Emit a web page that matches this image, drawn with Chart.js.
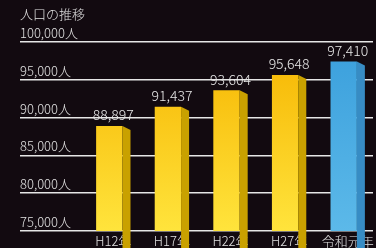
<!DOCTYPE html>
<html>
<head>
<meta charset="utf-8">
<script src="https://cdn.jsdelivr.net/npm/chart.js@4"></script>
<style>
  html, body { margin: 0; padding: 0; background: #120a10; }
  #wrap { width: 376px; height: 248px; }
</style>
</head>
<body>
<div id="wrap"><canvas id="popChart"></canvas></div>
<script>
// data
const years = ["H12年", "H17年", "H22年", "H27年", "令和元年"];
const population = [88897, 91437, 93604, 95648, 97410];
const yTicks = [75000, 80000, 85000, 90000, 95000, 100000];
const chartTitle = "人口の推移";

// colours per bar (last one is the current year)
const frontTop = ["#f6b400", "#f6b400", "#f6b400", "#f6b400", "#3a9fdc"];
const frontBottom = ["#ffe43c", "#ffe43c", "#ffe43c", "#ffe43c", "#5cb9e9"];
const sideColor = ["#c9a100", "#c9a100", "#c9a100", "#c9a100", "#378cc4"];

const FONT = "'Noto Sans CJK JP', 'Noto Sans', sans-serif";
const fmt = (v) => v.toLocaleString("en-US");

const extrasPlugin = {
  id: "extras",
  afterDatasetsDraw(chart) {
    const ctx = chart.ctx;
    const meta = chart.getDatasetMeta(0);
    ctx.save();
    meta.data.forEach((bar, i) => {
      const { x, y, base, width } = bar.getProps(["x", "y", "base", "width"], true);
      const right = x + width / 2;
      // side face of the 3d bar
      ctx.beginPath();
      ctx.moveTo(right, y);
      ctx.lineTo(right + 8, y + 4);
      ctx.lineTo(right + 8, base);
      ctx.lineTo(right, base);
      ctx.closePath();
      ctx.fillStyle = sideColor[i];
      ctx.fill();
      // value label
      ctx.fillStyle = "#e8e8e8";
      ctx.font = "300 14px " + FONT;
      ctx.textAlign = "center";
      ctx.textBaseline = "bottom";
      ctx.fillText(fmt(population[i]), x + 4, y - 4);
    });
    // title
    ctx.fillStyle = "#e0e0e0";
    ctx.font = "300 13px " + FONT;
    ctx.textAlign = "left";
    ctx.textBaseline = "middle";
    ctx.fillText(chartTitle, 20, 14);
    ctx.restore();
  }
};

const ctx = document.getElementById("popChart").getContext("2d");
new Chart(ctx, {
  type: "bar",
  data: {
    labels: years,
    datasets: [{
      data: population,
      backgroundColor: (c) => {
        const area = c.chart.chartArea;
        if (!area) return frontTop[c.dataIndex];
        const g = c.chart.ctx.createLinearGradient(0, area.top, 0, area.bottom);
        g.addColorStop(0, frontTop[c.dataIndex]);
        g.addColorStop(1, frontBottom[c.dataIndex]);
        return g;
      },
      borderWidth: 0,
      categoryPercentage: 1,
      barPercentage: 0.45
    }]
  },
  options: {
    responsive: true,
    maintainAspectRatio: false,
    animation: false,
    layout: { padding: { top: 42, left: 20, right: 3, bottom: 0 } },
    plugins: { legend: { display: false }, tooltip: { enabled: false } },
    scales: {
      x: {
        afterFit: (s) => { s.height = 17; },
        grid: { display: false, drawTicks: false },
        border: { display: false },
        ticks: {
          color: "#e0e0e0",
          font: { size: 13, family: FONT, weight: "300", lineHeight: 1 },
          padding: 4,
          labelOffset: 4
        }
      },
      y: {
        min: 75000,
        max: 100000,
        afterFit: (s) => { s.width = 60; },
        afterBuildTicks: (s) => { s.ticks = yTicks.map((v) => ({ value: v })); },
        border: { display: false },
        grid: { color: "#e6e6e6", lineWidth: 1.5, drawTicks: true, tickLength: 60 },
        ticks: {
          color: "#e0e0e0",
          font: { size: 13, family: FONT, weight: "300" },
          crossAlign: "far",
          labelOffset: -9,
          callback: (v) => fmt(v) + "人"
        }
      }
    }
  },
  plugins: [extrasPlugin]
});
</script>
</body>
</html>
